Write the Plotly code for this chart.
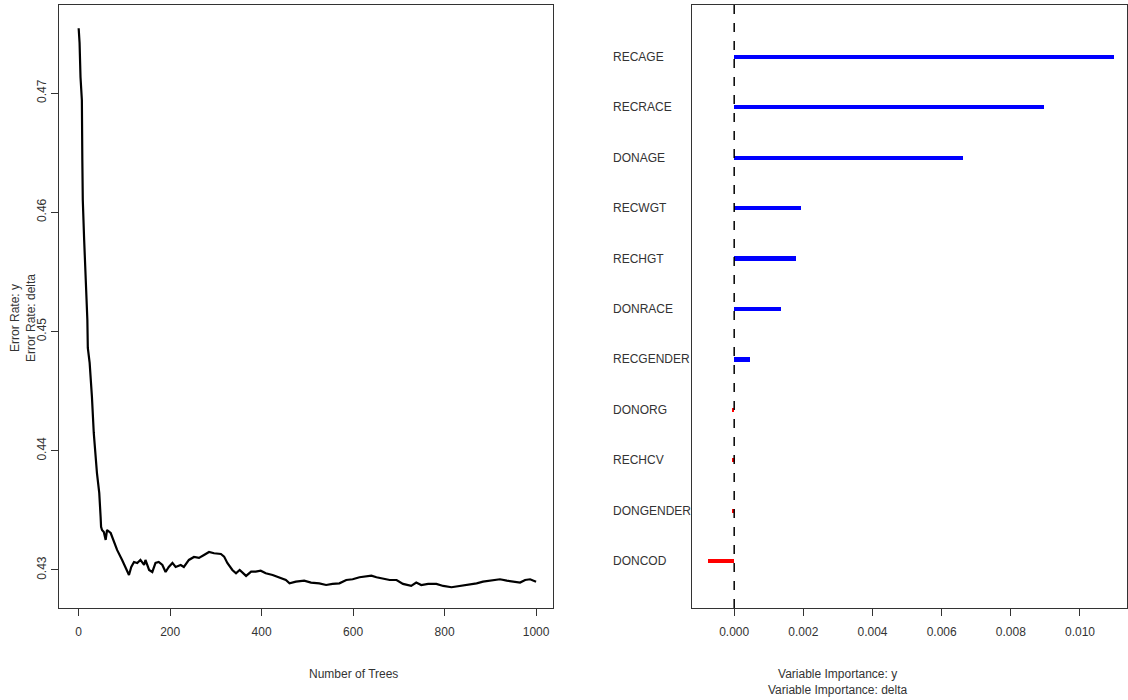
import plotly.graph_objects as go

# ---- Left panel: OOB error rate vs number of trees ----
n_trees = [0, 2, 4, 7, 8, 9, 12, 15, 18, 19, 20, 24, 29, 33, 40, 45, 48, 49, 51, 55,
           59, 62, 70, 77, 84, 95, 102, 110, 115, 121, 128, 135, 143, 146, 154, 161,
           168, 175, 183, 190, 197, 205, 212, 223, 230, 241, 252, 263, 274, 285, 296,
           311, 318, 325, 336, 344, 352, 366, 377, 387, 398, 409, 424, 439, 453, 461,
           475, 493, 508, 526, 541, 555, 570, 585, 599, 614, 629, 640, 651, 665, 680,
           695, 709, 727, 738, 749, 764, 782, 797, 815, 833, 852, 870, 884, 903, 921,
           936, 950, 965, 976, 987, 1000]
error_rate = [0.47543, 0.47419, 0.47134, 0.46941, 0.46438, 0.46103, 0.45767, 0.45457,
              0.45289, 0.45096, 0.44862, 0.44736, 0.44451, 0.44149, 0.43813, 0.43646,
              0.43444, 0.43361, 0.43335, 0.43319, 0.43252, 0.43335, 0.43310, 0.43235,
              0.43168, 0.43084, 0.43025, 0.42958, 0.43025, 0.43067, 0.43059, 0.43084,
              0.43042, 0.43084, 0.43000, 0.42983, 0.43059, 0.43067, 0.43042, 0.42983,
              0.43025, 0.43059, 0.43025, 0.43042, 0.43025, 0.43084, 0.43109, 0.43101,
              0.43126, 0.43151, 0.43140, 0.43134, 0.43112, 0.43059, 0.43000, 0.42972,
              0.43000, 0.42950, 0.42986, 0.42986, 0.42994, 0.42972, 0.42958, 0.42939,
              0.42916, 0.42888, 0.42902, 0.42910, 0.42894, 0.42888, 0.42874, 0.42883,
              0.42888, 0.42916, 0.42922, 0.42939, 0.42944, 0.42952, 0.42939, 0.42930,
              0.42916, 0.42916, 0.42883, 0.42866, 0.42894, 0.42874, 0.42883, 0.42883,
              0.42866, 0.42855, 0.42866, 0.42874, 0.42888, 0.42902, 0.42910, 0.42922,
              0.42910, 0.42902, 0.42894, 0.42916, 0.42922, 0.42902]
x_ticks_left = [0, 200, 400, 600, 800, 1000]
y_ticks_left = [0.43, 0.44, 0.45, 0.46, 0.47]

# ---- Right panel: variable importance ----
variables = ["RECAGE", "RECRACE", "DONAGE", "RECWGT", "RECHGT", "DONRACE",
             "RECGENDER", "DONORG", "RECHCV", "DONGENDER", "DONCOD"]
importance = [0.01098, 0.00896, 0.00662, 0.00194, 0.00179, 0.00136,
              0.00046, -0.00006, -0.00005, -0.00006, -0.00075]
x_ticks_right = [0.000, 0.002, 0.004, 0.006, 0.008, 0.010]

W, H = 1128, 700
FONT = "Liberation Sans, Arial, sans-serif"
AX = "#333333"

positions = list(range(len(variables), 0, -1))  # top = 11, bottom = 1
colors = ["#0000FF" if v >= 0 else "#FF0000" for v in importance]

fig = go.Figure()
fig.add_trace(go.Scatter(x=n_trees, y=error_rate, mode="lines",
                         line=dict(color="black", width=2.2),
                         xaxis="x", yaxis="y", showlegend=False, hoverinfo="x+y"))
fig.add_trace(go.Bar(x=importance, y=positions, orientation="h", base=0,
                     width=0.085, marker=dict(color=colors, line=dict(width=0)),
                     xaxis="x2", yaxis="y2", showlegend=False,
                     text=variables, hoverinfo="text+x", textposition="none"))

common = dict(showline=True, mirror=True, linecolor=AX, linewidth=1,
              showgrid=False, zeroline=False, ticks="outside", ticklen=7,
              tickcolor=AX, tickwidth=1,
              tickfont=dict(family=FONT, size=12, color=AX))

yd = [1 - 608 / H, 1 - 5 / H]
fig.update_layout(
    width=W, height=H, margin=dict(l=0, r=0, t=0, b=0),
    paper_bgcolor="white", plot_bgcolor="white", bargap=0,
    xaxis=dict(domain=[59 / W, 553 / W], range=[-43, 1037],
               tickvals=x_ticks_left, anchor="y", ticklabelstandoff=6, **common),
    yaxis=dict(domain=yd, range=[0.42681, 0.47738], tickvals=y_ticks_left,
               tickangle=-90, anchor="x", **common),
    xaxis2=dict(domain=[692 / W, 1127 / W], range=[-0.00122, 0.01136],
                tickvals=x_ticks_right, tickformat=".3f", anchor="y2",
                ticklabelstandoff=6, **common),
    yaxis2=dict(domain=yd, range=[0.07, 12.03], anchor="x2",
                showline=True, mirror=True, linecolor=AX, linewidth=1,
                showgrid=False, zeroline=False, showticklabels=False, ticks=""),
)

# dashed reference line at zero importance
fig.add_shape(type="line", xref="x2", yref="y2", x0=0, x1=0, y0=0.07, y1=12.03,
              line=dict(color="black", width=1.5, dash="dash"), layer="above")

# variable labels (left aligned, outside the box)
for name, pos in zip(variables, positions):
    fig.add_annotation(x=611 / W, xref="paper", xanchor="left",
                       y=pos, yref="y2", yanchor="middle", text=name,
                       showarrow=False, font=dict(family=FONT, size=12, color=AX))

# axis titles
fig.add_annotation(x=307 / W, y=1 - 674 / H, xref="paper", yref="paper",
                   yanchor="middle", text="Number of Trees", showarrow=False,
                   font=dict(family=FONT, size=12, color=AX))
fig.add_annotation(x=6 / W, y=1 - 318 / H, xref="paper", yref="paper",
                   xanchor="left", text="Error Rate: y<br>Error Rate: delta",
                   textangle=-90, showarrow=False,
                   font=dict(family=FONT, size=12, color=AX))
fig.add_annotation(x=910 / W, y=1 - 682 / H, xref="paper", yref="paper",
                   yanchor="middle",
                   text="Variable Importance: y<br>Variable Importance: delta",
                   showarrow=False, font=dict(family=FONT, size=12, color=AX))

fig.write_html("out.html")
